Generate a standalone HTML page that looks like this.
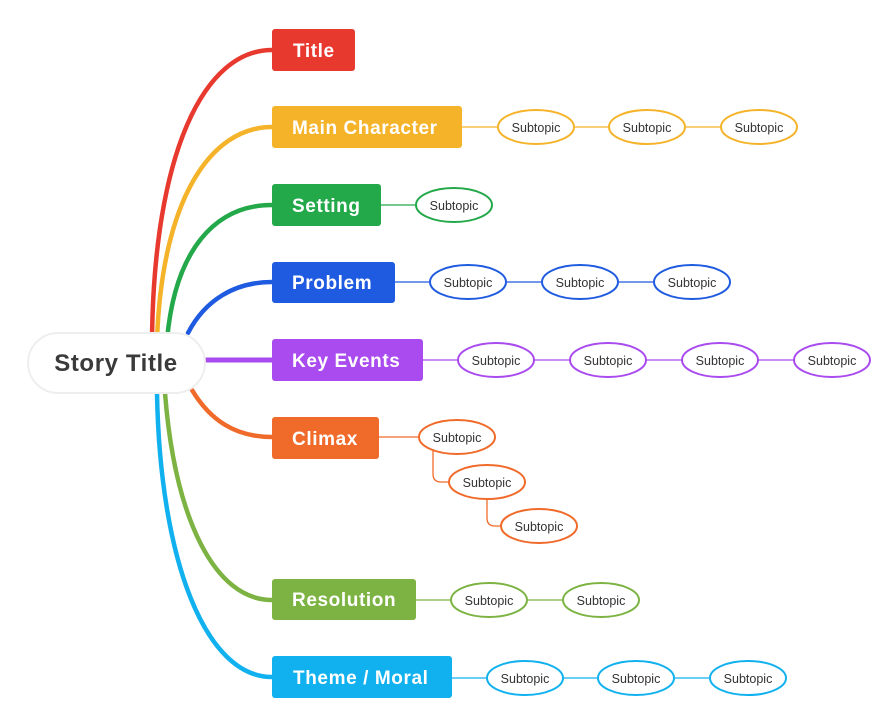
<!DOCTYPE html>
<html><head><meta charset="utf-8"><style>
body{margin:0;background:#fff}
svg{display:block}
.b{font-family:"Liberation Sans",sans-serif;font-weight:bold;font-size:19px;fill:#fff;letter-spacing:0.6px}
.s{font-family:"Liberation Sans",sans-serif;font-size:12.5px;fill:#333}
</style></head><body>
<svg width="893" height="726" viewBox="0 0 893 726" xmlns="http://www.w3.org/2000/svg">
<g fill="none" stroke-linecap="round">
<path d="M152,340 C154,150 205,50 272,50" stroke="#e8392f" stroke-width="4.5"/>
<path d="M157,340 C162,200 210,127 272,127" stroke="#f5b32a" stroke-width="4.5"/>
<path d="M167,340 C175,250 215,205 272,205" stroke="#23a84a" stroke-width="4.5"/>
<path d="M188,333 C205,300 235,282 272,282" stroke="#1f5be0" stroke-width="4.5"/>
<path d="M205,360 L272,360" stroke="#a94bef" stroke-width="5"/>
<path d="M192,390 C210,420 235,437 272,437" stroke="#f06a2a" stroke-width="4.5"/>
<path d="M165,393 C175,520 215,600 272,600" stroke="#7cb342" stroke-width="4.5"/>
<path d="M157,393 C160,560 205,677 272,677" stroke="#10b1ee" stroke-width="4.5"/>
<g stroke-width="1.3">
<path d="M462,127 H760" stroke="#f5b32a"/>
<path d="M381,205 H420" stroke="#23a84a"/>
<path d="M395,282 H692" stroke="#1f5be0"/>
<path d="M423,360 H832" stroke="#a94bef"/>
<path d="M379,437 H457 M433,448 V474 Q433,482 441,482 H449 M487,494 V518 Q487,526 495,526 H501" stroke="#f06a2a"/>
<path d="M416,600 H601" stroke="#7cb342"/>
<path d="M452,678 H748" stroke="#10b1ee"/>
</g>
</g>
<rect x="28" y="333" width="177" height="60" rx="30" fill="#fff" stroke="#eee" stroke-width="2"/>
<text x="116" y="371" text-anchor="middle" font-family="Liberation Sans,sans-serif" font-weight="bold" font-size="24" letter-spacing="0.6" fill="#3a3a3a">Story Title</text>
<g>
<rect x="272" y="29" width="83" height="42" rx="3" fill="#e8392f"/><text class="b" x="293" y="57">Title</text>
<rect x="272" y="106" width="190" height="42" rx="3" fill="#f5b32a"/><text class="b" x="292" y="134">Main Character</text>
<rect x="272" y="184" width="109" height="42" rx="3" fill="#23a84a"/><text class="b" x="292" y="212">Setting</text>
<rect x="272" y="262" width="123" height="41" rx="3" fill="#1f5be0"/><text class="b" x="292" y="289">Problem</text>
<rect x="272" y="339" width="151" height="42" rx="3" fill="#a94bef"/><text class="b" x="292" y="367">Key Events</text>
<rect x="272" y="417" width="107" height="42" rx="3" fill="#f06a2a"/><text class="b" x="292" y="445">Climax</text>
<rect x="272" y="579" width="144" height="41" rx="3" fill="#7cb342"/><text class="b" x="292" y="606">Resolution</text>
<rect x="272" y="656" width="180" height="42" rx="3" fill="#10b1ee"/><text class="b" x="293" y="684">Theme / Moral</text>
</g>
<g fill="#fff" stroke-width="2">
<g stroke="#f5b32a"><ellipse cx="536" cy="127" rx="38" ry="17"/><ellipse cx="647" cy="127" rx="38" ry="17"/><ellipse cx="759" cy="127" rx="38" ry="17"/></g>
<g stroke="#23a84a"><ellipse cx="454" cy="205" rx="38" ry="17"/></g>
<g stroke="#1f5be0"><ellipse cx="468" cy="282" rx="38" ry="17"/><ellipse cx="580" cy="282" rx="38" ry="17"/><ellipse cx="692" cy="282" rx="38" ry="17"/></g>
<g stroke="#a94bef"><ellipse cx="496" cy="360" rx="38" ry="17"/><ellipse cx="608" cy="360" rx="38" ry="17"/><ellipse cx="720" cy="360" rx="38" ry="17"/><ellipse cx="832" cy="360" rx="38" ry="17"/></g>
<g stroke="#f06a2a"><ellipse cx="457" cy="437" rx="38" ry="17"/><ellipse cx="487" cy="482" rx="38" ry="17"/><ellipse cx="539" cy="526" rx="38" ry="17"/></g>
<g stroke="#7cb342"><ellipse cx="489" cy="600" rx="38" ry="17"/><ellipse cx="601" cy="600" rx="38" ry="17"/></g>
<g stroke="#10b1ee"><ellipse cx="525" cy="678" rx="38" ry="17"/><ellipse cx="636" cy="678" rx="38" ry="17"/><ellipse cx="748" cy="678" rx="38" ry="17"/></g>
</g>
<g class="s" text-anchor="middle">
<text x="536" y="132">Subtopic</text><text x="647" y="132">Subtopic</text><text x="759" y="132">Subtopic</text>
<text x="454" y="210">Subtopic</text>
<text x="468" y="287">Subtopic</text><text x="580" y="287">Subtopic</text><text x="692" y="287">Subtopic</text>
<text x="496" y="365">Subtopic</text><text x="608" y="365">Subtopic</text><text x="720" y="365">Subtopic</text><text x="832" y="365">Subtopic</text>
<text x="457" y="442">Subtopic</text><text x="487" y="487">Subtopic</text><text x="539" y="531">Subtopic</text>
<text x="489" y="605">Subtopic</text><text x="601" y="605">Subtopic</text>
<text x="525" y="683">Subtopic</text><text x="636" y="683">Subtopic</text><text x="748" y="683">Subtopic</text>
</g>
</svg>
</body></html>
